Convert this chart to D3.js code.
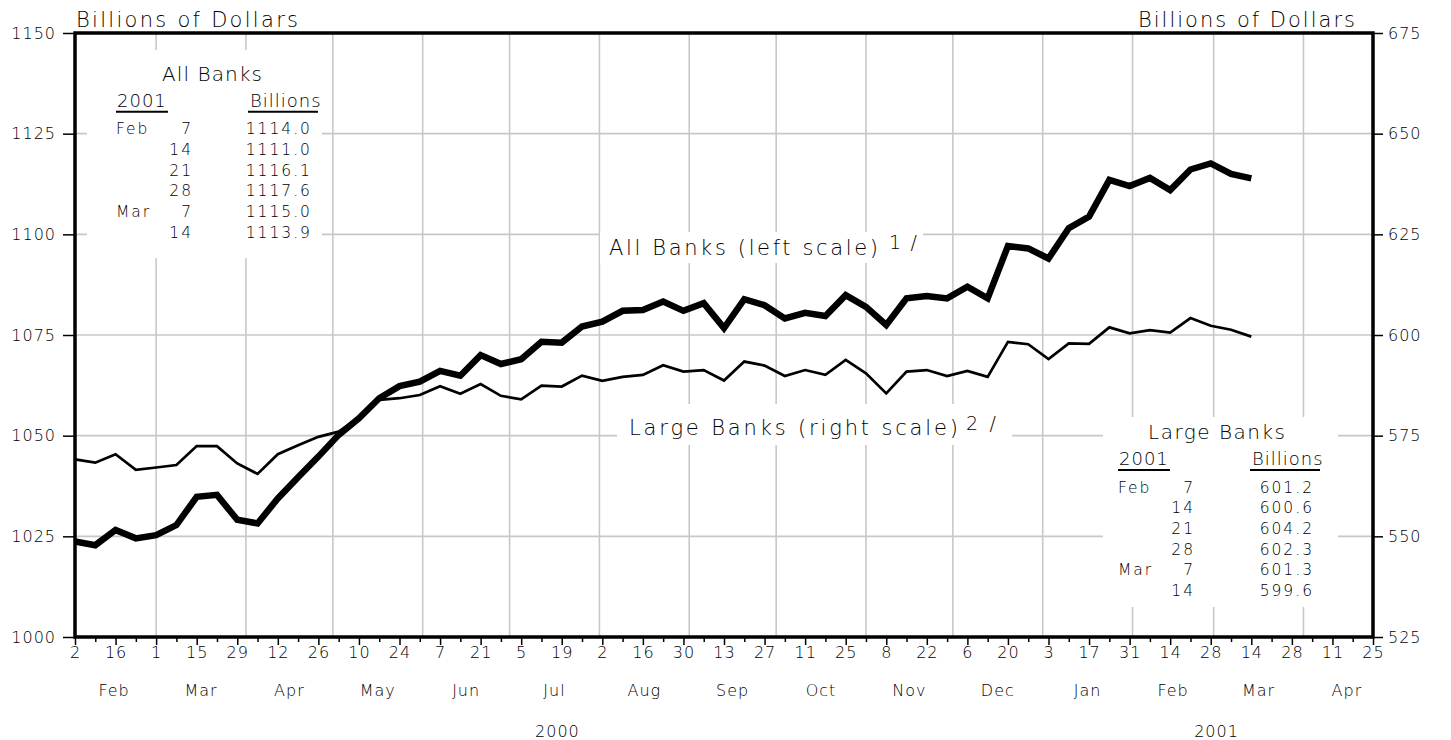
<!DOCTYPE html>
<html>
<head>
<meta charset="utf-8">
<script src="https://cdn.jsdelivr.net/npm/d3@7"></script>
<style>
  html, body { margin: 0; padding: 0; background: #fff; }
  svg { display: block; }
  svg text { font-family: "DejaVu Sans", sans-serif; font-weight: 200; fill: #000; }
</style>
</head>
<body>
<div id="chart"></div>
<script>
// weekly Wednesday figures, Feb 2 2000 .. Mar 14 2001
const startDate = new Date(2000, 1, 2);
const endDate = new Date(2001, 3, 25);

const allBanks = [
  1023.7, 1022.8, 1026.6, 1024.5, 1025.3, 1027.8, 1034.8, 1035.3, 1029.1, 1028.2,
  1034.4, 1039.7, 1044.8, 1050.2, 1054.3, 1059.3, 1062.3, 1063.4, 1066.1, 1064.9,
  1070.0, 1067.8, 1069.0, 1073.3, 1073.1, 1077.1, 1078.3, 1081.0, 1081.2, 1083.3,
  1081.0, 1082.9, 1076.7, 1083.9, 1082.4, 1079.1, 1080.5, 1079.7, 1084.9, 1082.0,
  1077.5, 1084.1, 1084.7, 1084.1, 1087.0, 1084.1, 1097.1, 1096.5, 1094.0, 1101.5,
  1104.4, 1113.5, 1112.0, 1114.0, 1111.0, 1116.1, 1117.6, 1115.0, 1113.9
];
const largeBanks = [
  569.1, 568.3, 570.4, 566.5, 567.1, 567.7, 572.4, 572.4, 568.1, 565.5,
  570.4, 572.6, 574.7, 576.0, 579.5, 583.9, 584.3, 585.1, 587.3, 585.4,
  587.8, 584.9, 584.0, 587.4, 587.2, 589.9, 588.6, 589.6, 590.1, 592.5,
  590.9, 591.3, 588.7, 593.4, 592.4, 589.8, 591.3, 590.1, 593.8, 590.5,
  585.5, 590.9, 591.3, 589.8, 591.1, 589.6, 598.3, 597.7, 594.0, 597.9,
  597.8, 601.9, 600.4, 601.2, 600.6, 604.2, 602.3, 601.3, 599.6
];

const leftTicks = [1000, 1025, 1050, 1075, 1100, 1125, 1150];
const rightTicks = [525, 550, 575, 600, 625, 650, 675];

// inset tables
const tableMonths = ["Feb", "", "", "", "Mar", ""];
const tableDays = ["7", "14", "21", "28", "7", "14"];
const allBanksTable = ["1114.0", "1111.0", "1116.1", "1117.6", "1115.0", "1113.9"];
const largeBanksTable = ["601.2", "600.6", "604.2", "602.3", "601.3", "599.6"];

const margin = { top: 33, right: 78, bottom: 103, left: 75 };
const WIDTH = 1451 - margin.left - margin.right;
const HEIGHT = 740 - margin.top - margin.bottom;
const GRID = "#c8c8c8";

let svg = d3.select("#chart")
  .append("svg")
  .attr("width", 1451)
  .attr("height", 740);

let g = svg.append("g")
  .attr("transform", "translate(" + margin.left + "," + margin.top + ")");

let x = d3.scaleTime().domain([startDate, endDate]).range([0, WIDTH]);
let yLeft = d3.scaleLinear().domain([1000, 1150]).range([HEIGHT, 0]);
let yRight = d3.scaleLinear().domain([525, 675]).range([HEIGHT, 0]);

let weeks = d3.range(0, 65).map(i => d3.timeDay.offset(startDate, 7 * i));
let dataDates = allBanks.map((d, i) => weeks[i]);

//Grid lines
g.append("g")
  .selectAll("line")
  .data(d3.timeMonth.range(new Date(2000, 2, 1), new Date(2001, 4, 1)))
  .enter()
  .append("line")
  .attr("x1", d => x(d))
  .attr("x2", d => x(d))
  .attr("y1", 0)
  .attr("y2", HEIGHT)
  .attr("stroke", GRID)
  .attr("stroke-width", 1.6);

g.append("g")
  .selectAll("line")
  .data(leftTicks.slice(1, -1))
  .enter()
  .append("line")
  .attr("x1", 0)
  .attr("x2", WIDTH)
  .attr("y1", d => yLeft(d))
  .attr("y2", d => yLeft(d))
  .attr("stroke", GRID)
  .attr("stroke-width", 1.6);

//white boxes behind the labels and tables (page coords)
const boxes = [
  [87, 50, 235, 208],
  [1103, 417, 235, 190],
  [600, 232, 323, 31],
  [617, 404, 395, 41]
];
svg.append("g")
  .selectAll("rect")
  .data(boxes)
  .enter()
  .append("rect")
  .attr("x", d => d[0])
  .attr("y", d => d[1])
  .attr("width", d => d[2])
  .attr("height", d => d[3])
  .attr("fill", "#fff");

//Lines
let lineLeft = d3.line().x((d, i) => x(dataDates[i])).y(d => yLeft(d));
let lineRight = d3.line().x((d, i) => x(dataDates[i])).y(d => yRight(d));

g.append("path")
  .datum(largeBanks)
  .attr("d", lineRight)
  .attr("fill", "none")
  .attr("stroke", "#000")
  .attr("stroke-width", 2.7)
  .attr("stroke-linejoin", "miter");

g.append("path")
  .datum(allBanks)
  .attr("d", lineLeft)
  .attr("fill", "none")
  .attr("stroke", "#000")
  .attr("stroke-width", 6.5)
  .attr("stroke-linejoin", "miter");

//Axes
let axisStyle = sel => {
  sel.attr("font-family", null).attr("font-size", null);
  sel.select(".domain").remove();
  sel.selectAll("line").attr("stroke", "#000").attr("stroke-width", 1.5);
  sel.selectAll("text")
    .style("font-size", "16px")
    .style("letter-spacing", "1px");
};

g.append("g")
  .call(d3.axisLeft(yLeft).tickValues(leftTicks).tickSize(12).tickPadding(7).tickFormat(d3.format("d")))
  .call(axisStyle);

g.append("g")
  .attr("transform", "translate(" + WIDTH + ",0)")
  .call(d3.axisRight(yRight).tickValues(rightTicks).tickSize(10).tickPadding(5))
  .call(axisStyle);

g.append("g")
  .attr("transform", "translate(0," + HEIGHT + ")")
  .call(d3.axisBottom(x).tickValues(weeks.filter((d, i) => i % 2 === 1)).tickSize(5).tickFormat(""))
  .call(axisStyle);

g.append("g")
  .attr("transform", "translate(0," + HEIGHT + ")")
  .call(d3.axisBottom(x).tickValues(weeks.filter((d, i) => i % 2 === 0))
    .tickSize(8).tickPadding(2).tickFormat(d3.timeFormat("%-d")))
  .call(axisStyle);

//Month labels
let months = d3.timeMonth.range(new Date(2000, 1, 1), new Date(2001, 4, 1));
g.append("g")
  .selectAll("text")
  .data(months)
  .enter()
  .append("text")
  .attr("x", d => (x(d) + x(d3.timeMonth.offset(d, 1))) / 2)
  .attr("y", HEIGHT + 59)
  .attr("text-anchor", "middle")
  .style("font-size", "16px")
  .style("letter-spacing", "1px")
  .text(d3.timeFormat("%b"));

//Year labels
const years = [
  [new Date(2000, 1, 1), new Date(2001, 0, 1), "2000"],
  [new Date(2001, 0, 1), new Date(2001, 4, 1), "2001"]
];
g.append("g")
  .selectAll("text")
  .data(years)
  .enter()
  .append("text")
  .attr("x", d => (x(d[0]) + x(d[1])) / 2)
  .attr("y", HEIGHT + 100)
  .attr("text-anchor", "middle")
  .style("font-size", "16px")
  .style("letter-spacing", "1px")
  .text(d => d[2]);

//Frame
g.append("rect")
  .attr("width", WIDTH)
  .attr("height", HEIGHT)
  .attr("fill", "none")
  .attr("stroke", "#000")
  .attr("stroke-width", 3.5);

//Big labels
let bigText = (tx, ty, str, len, size) => {
  let t = svg.append("text")
    .attr("x", tx)
    .attr("y", ty)
    .style("font-size", size + "px")
    .text(str);
  if (len) t.attr("textLength", len).attr("lengthAdjust", "spacing");
};
bigText(76, 27, "Billions of Dollars", 222, 21);
bigText(1138, 27, "Billions of Dollars", 217, 21);
bigText(609, 255, "All Banks (left scale)", 269, 21);
bigText(889, 249, "1/", 28, 19);
bigText(629, 435, "Large Banks (right scale)", 329, 21);
bigText(966, 430, "2/", 30, 19);

//Tables
let drawTable = (title, titleX, titleW, top, left, values) => {
  let t = svg.append("g");
  t.append("text")
    .attr("x", titleX)
    .attr("y", top)
    .attr("textLength", titleW)
    .attr("lengthAdjust", "spacing")
    .style("font-size", "20px")
    .text(title);
  t.append("text")
    .attr("x", left + 1)
    .attr("y", top + 26)
    .style("font-size", "18px")
    .style("letter-spacing", "1px")
    .text("2001");
  t.append("text")
    .attr("x", left + 134)
    .attr("y", top + 26)
    .style("font-size", "18px")
    .style("letter-spacing", "1px")
    .text("Billions");
  t.append("line")
    .attr("x1", left).attr("x2", left + 52)
    .attr("y1", top + 31).attr("y2", top + 31)
    .attr("stroke", "#000").attr("stroke-width", 2);
  t.append("line")
    .attr("x1", left + 132).attr("x2", left + 202)
    .attr("y1", top + 31).attr("y2", top + 31)
    .attr("stroke", "#000").attr("stroke-width", 2);
  let rows = t.selectAll(".row")
    .data(values)
    .enter()
    .append("g")
    .attr("transform", (d, i) => "translate(0," + (top + 53.5 + i * 20.7) + ")")
    .style("font-size", "15.5px")
    .style("letter-spacing", "2px");
  rows.append("text").attr("x", left).text((d, i) => tableMonths[i]);
  rows.append("text").attr("x", left + 77).attr("text-anchor", "end").text((d, i) => tableDays[i]);
  rows.append("text").attr("x", left + 196).attr("text-anchor", "end").text(d => d);
};
drawTable("All Banks", 162, 100, 80.7, 116, allBanksTable);
drawTable("Large Banks", 1148, 137, 439, 1118, largeBanksTable);
</script>
</body>
</html>
